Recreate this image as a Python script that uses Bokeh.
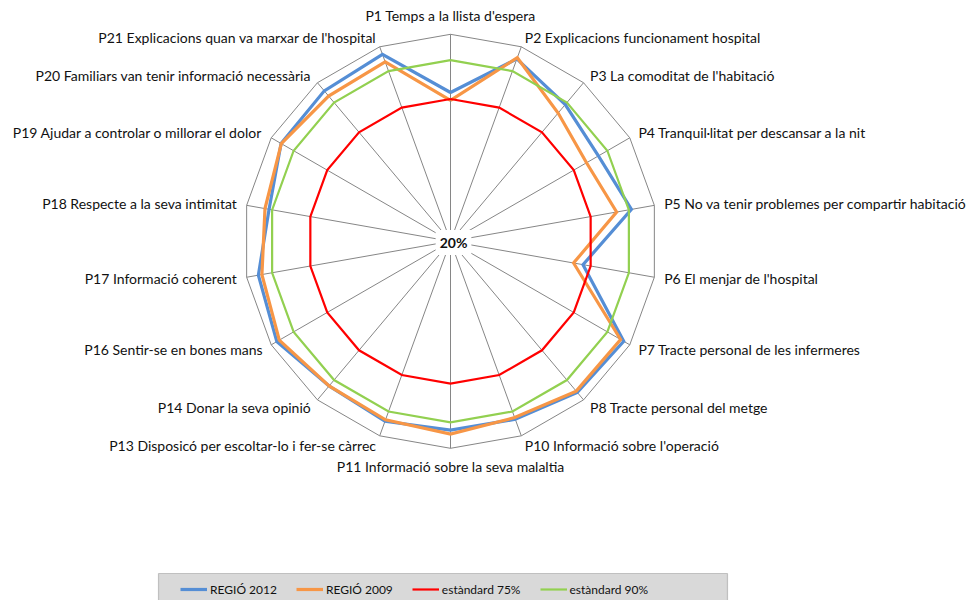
import numpy as np
from bokeh.plotting import figure
from bokeh.models import ColumnDataSource, Range1d, Label, Legend, LegendItem, BoxAnnotation
from bokeh.core.properties import value
from bokeh.embed import file_html
from bokeh.resources import INLINE

# ---------------- data ----------------
categories = [
    "P1 Temps a la llista d'espera",
    "P2 Explicacions funcionament hospital",
    "P3 La comoditat de l'habitació",
    "P4 Tranquil·litat per descansar a la nit",
    "P5 No va tenir problemes per compartir habitació",
    "P6 El menjar de l'hospital",
    "P7 Tracte personal de les infermeres",
    "P8 Tracte personal del metge",
    "P10 Informació sobre l'operació",
    "P11 Informació sobre la seva malaltia",
    "P13 Disposicó per escoltar-lo i fer-se càrrec",
    "P14 Donar la seva opinió",
    "P16 Sentir-se en bones mans",
    "P17 Informació coherent",
    "P18 Respecte a la seva intimitat",
    "P19 Ajudar a controlar o millorar el dolor",
    "P20 Familiars van tenir informació necessària",
    "P21 Explicacions quan va marxar de l'hospital",
]
regio_2012 = [77.5, 95.0, 89.0, 86.0, 91.0, 72.0, 97.3, 96.2, 93.2, 93.0,
              94.0, 93.0, 97.5, 95.4, 91.2, 95.6, 95.9, 96.9]
regio_2009 = [74.5, 95.5, 84.7, 80.7, 85.2, 68.3, 95.9, 95.6, 92.5, 94.5,
              93.4, 93.0, 96.4, 94.0, 92.8, 95.5, 93.3, 93.8]
estandard_75 = [75, 75, 75, 75, 75, 75, 75, 75, 75, 75,
                75, 75, 75, 75, 75, 75, 75, 75]
estandard_90 = [90, 90, 90, 90, 90, 90, 90, 90, 90, 90,
                90, 90, 90, 90, 90, 90, 90, 90]
series_names = ["REGIÓ 2012", "REGIÓ 2009", "estàndard 75%", "estàndard 90%"]
axis_min = 20
axis_max = 100
center_label = "20%"

# ---------------- layout ----------------
W, H = 974, 600
CXf, CYf, R = 450.0, 240.8, 207.0      # centre / radius in canvas pixels
FONT = "Lato"

p = figure(width=W, height=H, output_backend="svg", toolbar_location=None,
           x_axis_type=None, y_axis_type=None, min_border=0,
           x_range=Range1d(-CXf / R, (W - CXf) / R),
           y_range=Range1d((CYf - H) / R, CYf / R))
p.grid.visible = False
p.outline_line_color = None
p.background_fill_color = "white"

def px_x(sx):   # canvas x pixel -> data
    return (sx - CXf) / R

def px_y(sy):   # canvas y pixel -> data
    return (CYf - sy) / R

n = len(categories)
theta = np.pi / 2 - 2 * np.pi * np.arange(n) / n
cos_t, sin_t = np.cos(theta), np.sin(theta)

def polar(vals):
    r = (np.asarray(vals, float) - axis_min) / (axis_max - axis_min)
    x = list(r * cos_t) + [r[0] * cos_t[0]]
    y = list(r * sin_t) + [r[0] * sin_t[0]]
    return x, y

# grid: spokes + outer ring
grid_col = "#868686"
p.multi_line(xs=[[0, c] for c in cos_t], ys=[[0, s] for s in sin_t],
             line_color=grid_col, line_width=1)
ox, oy = polar([axis_max] * n)
p.line(ox, oy, line_color=grid_col, line_width=1)

# series
colors = ["#558ED5", "#F79646", "#FF0000", "#92D050"]
widths = [3.2, 3.2, 2.2, 2.2]
renderers = []
for vals, col, lw in zip([regio_2012, regio_2009, estandard_75, estandard_90], colors, widths):
    x, y = polar(vals)
    renderers.append(p.line(x, y, line_color=col, line_width=lw, line_join="miter"))

# category labels
off = 1 + 10.0 / R
aligns = ["left" if c > 0.1 else ("right" if c < -0.1 else "center") for c in cos_t]
baselines = ["bottom" if s > 0.99 else ("top" if s < -0.99 else "middle") for s in sin_t]
lab_src = ColumnDataSource(dict(x=off * cos_t, y=off * sin_t, text=categories,
                                align=aligns, base=baselines))
p.text(x="x", y="y", text="text", source=lab_src, text_align="align",
       text_baseline="base", text_font=value(FONT), text_font_size="14px",
       text_color="#111111")

# centre label
p.add_layout(Label(x=px_x(453), y=px_y(242), text=center_label, text_align="center",
                   text_baseline="middle", text_font=FONT, text_font_size="14px",
                   text_font_style="bold", text_color="#111111",
                   background_fill_color="white", padding=4))

# legend box
p.add_layout(BoxAnnotation(left=px_x(158), right=px_x(727), top=px_y(573), bottom=px_y(606),
                           fill_color="#D9D9D9", fill_alpha=1.0,
                           line_color="#595959", line_width=1.2))
legend = Legend(items=[LegendItem(label=nm, renderers=[r]) for nm, r in zip(series_names, renderers)],
                orientation="horizontal", location=(180, H - 599),
                padding=0, margin=0, spacing=19, glyph_width=27, glyph_height=20,
                label_height=20, label_standoff=3,
                label_text_font=FONT, label_text_font_size="12px", label_text_color="#111111",
                background_fill_alpha=0, border_line_color=None)
p.add_layout(legend, "center")

open("out.html", "w").write(file_html(p, INLINE))
